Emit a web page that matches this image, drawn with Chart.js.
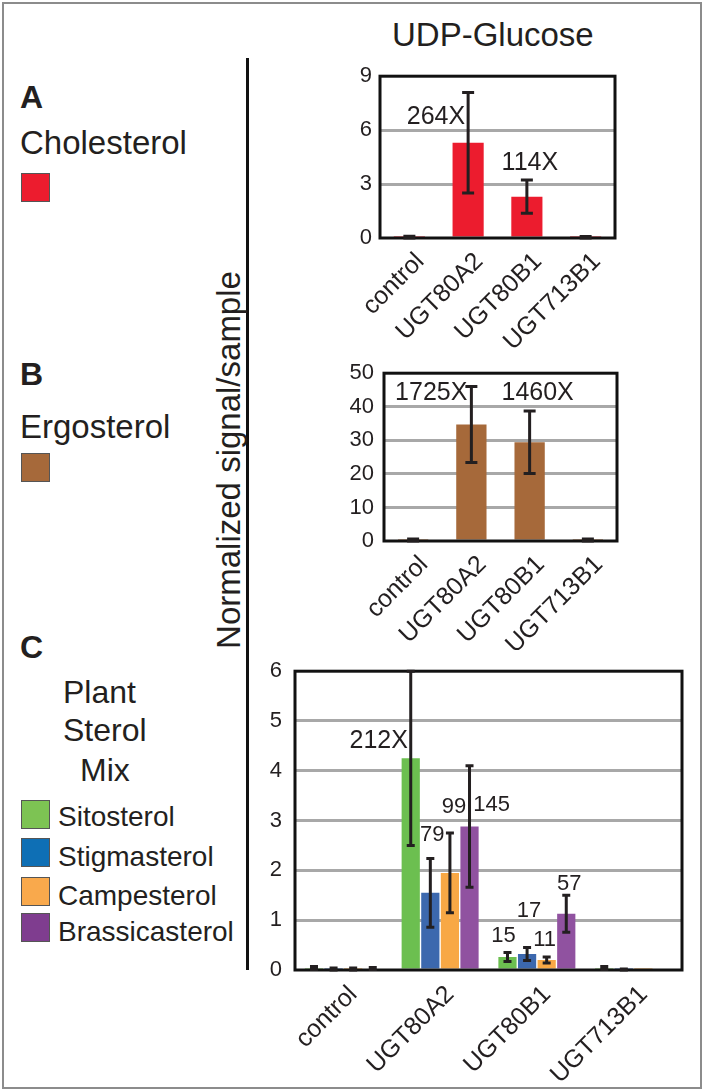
<!DOCTYPE html>
<html>
<head>
<meta charset="utf-8">
<script src="https://cdn.jsdelivr.net/npm/chart.js@4/dist/chart.umd.min.js"></script>
<style>
  html, body { margin:0; padding:0; background:#fff; }
  body { width:704px; height:1091px; position:relative; overflow:hidden; font-family:'Liberation Sans', Arial, sans-serif; color:#231f20; }
  .t { position:absolute; line-height:1; white-space:nowrap; }
  .sw { position:absolute; width:27px; height:27px; border:1px solid #555; }
  canvas { position:absolute; }
</style>
</head>
<body>
<div style="position:absolute;left:2px;top:2px;width:696px;height:1083px;border:2px solid #8c8c8c;"></div>
<div style="position:absolute;left:246px;top:58px;width:3px;height:912px;background:#111;"></div>

<div class="t" style="left:392px;top:18px;font-size:33px;">UDP-Glucose</div>
<div class="t" style="left:20px;top:81px;font-size:32px;font-weight:bold;">A</div>
<div class="t" style="left:20px;top:126px;font-size:33px;">Cholesterol</div>
<div class="sw" style="left:21px;top:173px;background:#ec1c2e;"></div>
<div class="t" style="left:20px;top:358px;font-size:32px;font-weight:bold;">B</div>
<div class="t" style="left:20px;top:410px;font-size:33px;">Ergosterol</div>
<div class="sw" style="left:21px;top:453px;background:#a6693a;"></div>
<div class="t" style="left:20px;top:631px;font-size:32px;font-weight:bold;">C</div>
<div class="t" style="left:63px;top:676px;font-size:32px;">Plant</div>
<div class="t" style="left:63px;top:714px;font-size:32px;">Sterol</div>
<div class="t" style="left:80px;top:754px;font-size:32px;">Mix</div>
<div class="sw" style="left:21px;top:800px;background:#7dc353;"></div>
<div class="t" style="left:58px;top:803px;font-size:28px;">Sitosterol</div>
<div class="sw" style="left:21px;top:838px;background:#0e6fb5;"></div>
<div class="t" style="left:58px;top:843px;font-size:28px;">Stigmasterol</div>
<div class="sw" style="left:21px;top:877px;background:#f9a94c;"></div>
<div class="t" style="left:58px;top:882px;font-size:28px;">Campesterol</div>
<div class="sw" style="left:21px;top:913px;background:#7f3d8f;"></div>
<div class="t" style="left:58px;top:918px;font-size:28px;">Brassicasterol</div>

<div class="t" style="left:228px;top:460px;font-size:33px;transform:translate(-50%,-50%) rotate(-90deg);">Normalized signal/sample</div>

<canvas id="cA" width="300" height="300" style="left:330px;top:55px;"></canvas>
<canvas id="cB" width="300" height="300" style="left:330px;top:350px;"></canvas>
<canvas id="cC" width="440" height="440" style="left:255px;top:645px;"></canvas>

<script>
// ---------- data ----------
const categories = ['control', 'UGT80A2', 'UGT80B1', 'UGT713B1'];

const cholesterolValues = [0.05, 5.3, 2.3, 0.04];
const cholesterolErrors = [0.05, 2.8, 0.92, 0.04];
const cholesterolFold   = ['', '264X', '114X', ''];

const ergosterolValues = [0.3, 34.7, 29.4, 0.3];
const ergosterolErrors = [0.3, 11.3, 9.3, 0.3];
const ergosterolFold   = ['', '1725X', '1460X', ''];

const sitosterolValues     = [0.04, 4.25, 0.26, 0.04];
const sitosterolErrors     = [0.03, 1.75, 0.09, 0.03];
const sitosterolFold       = ['', '212X', '15', ''];
const stigmasterolValues   = [0.02, 1.55, 0.32, 0.01];
const stigmasterolErrors   = [0.02, 0.69, 0.13, 0.01];
const stigmasterolFold     = ['', '79', '17', ''];
const campesterolValues    = [0.02, 1.95, 0.20, 0.02];
const campesterolErrors    = [0.02, 0.80, 0.06, 0.0];
const campesterolFold      = ['', '99', '11', ''];
const brassicasterolValues = [0.03, 2.88, 1.13, 0.03];
const brassicasterolErrors = [0.02, 1.22, 0.37, 0.0];
const brassicasterolFold   = ['', '145', '57', ''];

const ticksA = [0, 3, 6, 9];
const ticksB = [0, 10, 20, 30, 40, 50];
const ticksC = [0, 1, 2, 3, 4, 5, 6];

// ---------- placement of fold labels (style, not data) ----------
const placeA = [null, {dx:-3, y:6.7, align:'right', size:25}, {dx:3, y:4.18, align:'center', size:25}, null];
const placeB = [null, {dx:-4, y:44.2, align:'right', size:25}, {dx:8, y:44.2, align:'center', size:25}, null];
const placeC = [
  [null, {dx:-32, y:4.59, align:'center', size:25}, {dx:-4, y:0.68, align:'center', size:22}, null],
  [null, {dx:2, y:2.72, align:'center', size:22}, {dx:2, y:1.19, align:'center', size:22}, null],
  [null, {dx:4, y:3.28, align:'center', size:22}, {dx:-2, y:0.6, align:'center', size:22}, null],
  [null, {dx:22, y:3.32, align:'center', size:22}, {dx:3, y:1.73, align:'center', size:22}, null]
];

const FONT = "'Liberation Sans', Arial, sans-serif";
Chart.defaults.font.family = FONT;
Chart.defaults.color = '#231f20';

const decoPlugin = {
  id: 'deco',
  afterDatasetsDraw(chart, args, opts) {
    const ctx = chart.ctx;
    const a = chart.chartArea;
    const ys = chart.scales.y;
    // frame
    ctx.save();
    ctx.strokeStyle = '#111';
    ctx.lineWidth = 3;
    ctx.strokeRect(a.left, a.top, a.right - a.left, a.bottom - a.top);
    ctx.restore();
    // error bars
    chart.data.datasets.forEach((ds, d) => {
      const meta = chart.getDatasetMeta(d);
      meta.data.forEach((el, i) => {
        const v = ds.data[i], e = ds.errors[i];
        if (!e) return;
        const yt = ys.getPixelForValue(v + e);
        const yb = ys.getPixelForValue(Math.max(v - e, 0));
        const cw = opts.cap;
        ctx.save();
        ctx.strokeStyle = '#231f20';
        ctx.lineWidth = opts.lw;
        ctx.beginPath();
        ctx.moveTo(el.x, yt); ctx.lineTo(el.x, yb);
        ctx.moveTo(el.x - cw/2, yt); ctx.lineTo(el.x + cw/2, yt);
        ctx.moveTo(el.x - cw/2, yb); ctx.lineTo(el.x + cw/2, yb);
        ctx.stroke();
        ctx.restore();
      });
      // fold labels
      const pl = opts.place[d];
      ds.fold.forEach((txt, i) => {
        if (!txt || !pl[i]) return;
        const p = pl[i];
        const el = meta.data[i];
        ctx.save();
        ctx.fillStyle = '#231f20';
        ctx.font = p.size + 'px ' + FONT;
        ctx.textAlign = p.align;
        ctx.textBaseline = 'middle';
        ctx.fillText(txt, el.x + p.dx, ys.getPixelForValue(p.y));
        ctx.restore();
      });
    });
  }
};

function makeChart(id, datasets, cfg) {
  return new Chart(document.getElementById(id), {
    type: 'bar',
    data: { labels: categories, datasets },
    plugins: [decoPlugin],
    options: {
      responsive: false, animation: false, devicePixelRatio: 1,
      layout: { padding: { top: cfg.padTop, right: cfg.padRight, left: 0, bottom: 0 } },
      plugins: { legend: { display: false }, tooltip: { enabled: false },
        deco: { cap: cfg.cap, lw: cfg.lw, place: cfg.place } },
      datasets: { bar: { categoryPercentage: cfg.catPct, barPercentage: cfg.barPct } },
      scales: {
        x: {
          grid: { display: false }, border: { display: false },
          ticks: { autoSkip: false, maxRotation: 45, minRotation: 45, labelOffset: cfg.labelOffset,
                   padding: cfg.xPad, font: { size: cfg.xFont }, color: '#231f20' },
          afterFit(s) { s.height = cfg.xHeight; }
        },
        y: {
          min: cfg.ticks[0], max: cfg.ticks[cfg.ticks.length - 1],
          afterBuildTicks(s) { s.ticks = cfg.ticks.map(v => ({ value: v })); },
          border: { display: false },
          grid: { drawTicks: false, lineWidth: 3,
                  color: c => (c.tick.value === cfg.ticks[0] || c.tick.value === cfg.ticks[cfg.ticks.length-1]) ? 'rgba(0,0,0,0)' : '#a8a8a8' },
          ticks: { padding: cfg.yPad, font: { size: cfg.yFont }, color: '#231f20' },
          afterFit(s) { s.width = cfg.yWidth; }
        }
      }
    }
  });
}

makeChart('cA', [
  { data: cholesterolValues, errors: cholesterolErrors, fold: cholesterolFold, backgroundColor: '#ec1c2e' }
], { padTop: 14, padRight: 15, yWidth: 50, xHeight: 117, ticks: ticksA, catPct: 1, barPct: 0.53,
     cap: 12, lw: 3, place: [placeA], labelOffset: 11, xPad: 1, xFont: 25, yFont: 22, yPad: 8 });

makeChart('cB', [
  { data: ergosterolValues, errors: ergosterolErrors, fold: ergosterolFold, backgroundColor: '#a6693a' }
], { padTop: 20, padRight: 13, yWidth: 54, xHeight: 109, ticks: ticksB, catPct: 1, barPct: 0.52,
     cap: 12, lw: 3, place: [placeB], labelOffset: 11, xPad: 1, xFont: 25, yFont: 22, yPad: 10 });

makeChart('cC', [
  { data: sitosterolValues, errors: sitosterolErrors, fold: sitosterolFold, backgroundColor: '#6cbf50' },
  { data: stigmasterolValues, errors: stigmasterolErrors, fold: stigmasterolFold, backgroundColor: '#3c68ae' },
  { data: campesterolValues, errors: campesterolErrors, fold: campesterolFold, backgroundColor: '#f8a845' },
  { data: brassicasterolValues, errors: brassicasterolErrors, fold: brassicasterolFold, backgroundColor: '#9052a0' }
], { padTop: 22, padRight: 13, yWidth: 40, xHeight: 115, ticks: ticksC, catPct: 0.81, barPct: 0.93,
     cap: 8, lw: 3, place: placeC, labelOffset: 10, xPad: 2, xFont: 25, yFont: 22, yPad: 13 });
</script>
</body>
</html>
